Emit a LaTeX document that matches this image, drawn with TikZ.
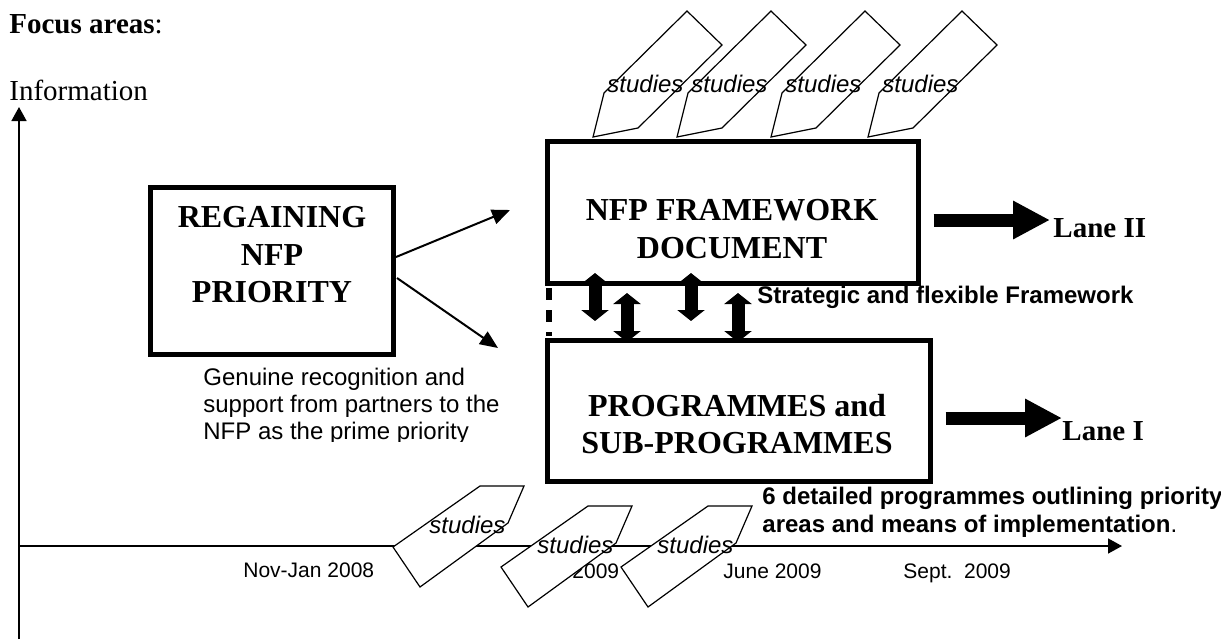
\documentclass[tikz,border=0pt]{standalone}
\usepackage{fontspec}
\setmainfont{Liberation Serif}
\newfontfamily\arialfont{Liberation Sans}
\usetikzlibrary{arrows.meta,calc}
\begin{document}
\begin{tikzpicture}[x=0.5pt,y=-0.5pt,
  box/.style={draw, line width=2.5pt, inner sep=0pt},
  boxtext/.style={inner sep=0pt, align=center, font=\fontsize{16}{18.75}\selectfont\bfseries},
  lane/.style={inner sep=0pt, anchor=base west, font=\fontsize{14.5}{17}\selectfont\bfseries},
  times/.style={inner sep=0pt, anchor=base west, font=\fontsize{14.5}{17}\selectfont},
  arialtxt/.style={inner sep=0pt, anchor=base west, font=\arialfont\fontsize{12}{13.5}\selectfont},
  arialbold/.style={inner sep=0pt, anchor=base west, font=\arialfont\bfseries\fontsize{12}{14}\selectfont},
  datetxt/.style={inner sep=0pt, anchor=base west, font=\arialfont\fontsize{10.5}{12}\selectfont},
  studytxt/.style={inner sep=0pt, anchor=base west, font=\arialfont\itshape\fontsize{12}{14}\selectfont},
  pencil/.style={draw, line width=0.6pt, line join=miter},
  axis/.style={draw, line width=0.8pt, -{Triangle[length=7pt,width=7.5pt]}},
  thinarrow/.style={draw, line width=1pt, -{Triangle[length=9pt,width=7.5pt]}},
  fatarrow/.style={draw, line width=6.5pt, -{Triangle[length=18.5pt,width=18pt]}},
  dblarrow/.style={draw, line width=6.5pt, {Triangle[length=5.5pt,width=13.5pt]}-{Triangle[length=5.5pt,width=13.5pt]}}
]
\useasboundingbox (0,0) rectangle (1221,639);

% titles
\node[times] (focus) at (9,33) {\textbf{Focus areas}:};
\node[times] (info) at (9,100) {Information};

% axes
\coordinate (origin) at (19,546);
\coordinate (ytop) at (19,107);
\coordinate (ybot) at (19,639);
\coordinate (xend) at (1122,546);
\draw[axis] (ybot) -- (ytop);
\draw[axis] (origin) -- (xend);

% timeline labels
\node[datetxt] (d1) at (243,577) {Nov-Jan 2008};
\node[datetxt] (d2) at (572,578) {2009};
\node[datetxt] (d3) at (723,578) {June 2009};
\node[datetxt] (d4) at (903,578) {Sept.\ \ 2009};

% boxes
\node[box, minimum width=121.5pt, minimum height=83.5pt] (reg) at (272,271) {};
\node[boxtext] (regt) at (272,255) {REGAINING\\NFP\\PRIORITY};
\node[box, minimum width=185.5pt, minimum height=71pt] (nfp) at (732.5,212) {};
\node[boxtext] (nfpt) at (732,229) {NFP FRAMEWORK\\DOCUMENT};
\node[box, minimum width=191.5pt, minimum height=70.5pt] (prog) at (738.5,410.5) {};
\node[boxtext] (progt) at (737,424) {PROGRAMMES and\\SUB-PROGRAMMES};

% arrows from REGAINING box
\coordinate (r1) at (510,210);
\coordinate (r2) at (498,348);
\draw[thinarrow] ($(reg.east)+(0,-14)$) -- (r1);
\draw[thinarrow] ($(reg.east)+(1,7)$) -- (r2);

% dashed left link between boxes
\coordinate (dsa) at (549,288);
\coordinate (dsb) at (549,336);
\draw[line width=3pt, dash pattern=on 6pt off 5pt] (dsa) -- (dsb);

% double arrows between boxes
\coordinate (a1t) at (595,273); \coordinate (a1b) at (595,321);
\coordinate (a2t) at (627,293); \coordinate (a2b) at (627,342);
\coordinate (a3t) at (691,273); \coordinate (a3b) at (691,321);
\coordinate (a4t) at (738,293); \coordinate (a4b) at (738,342);
\draw[dblarrow] (a1t) -- (a1b);
\draw[dblarrow] (a2t) -- (a2b);
\draw[dblarrow] (a3t) -- (a3b);
\draw[dblarrow] (a4t) -- (a4b);

% lanes
\node[lane] (l2) at (1053,237) {Lane II};
\node[lane] (l1) at (1062,440) {Lane I};
\draw[fatarrow] ($(nfp.east)+(13,8)$) -- ($(l2.base west)+(-3,-17)$);
\draw[fatarrow] ($(prog.east)+(13,7.5)$) -- ($(l1.base west)+(0,-22)$);

% side texts
\node[arialbold] (strat) at (757,303) {Strategic and flexible Framework};
\node[arialbold] (det1) at (762,504) {6 detailed programmes outlining priority};
\node[arialbold] (det2) at (762,532) {areas and means of implementation\textmd{.}};

\begin{scope}
\clip (180,350) rectangle (540,441);
\node[arialtxt] (g1) at (203,385) {Genuine recognition and};
\node[arialtxt] (g2) at (203,412) {support from partners to the};
\node[arialtxt] (g3) at (203,439) {NFP as the prime priority};
\end{scope}

% top study pencils
\foreach \dx/\i in {0/1,84/2,178/3,275/4}{
  \draw[pencil] (593+\dx,137) -- (604+\dx,93) -- (687+\dx,11) -- (722+\dx,45) -- (638+\dx,128) -- cycle;
  \node[studytxt] (ts\i) at (607+\dx,92) {studies};
}

% bottom study pencils
\foreach \dx/\dy/\i in {0/0/1,108/20/2,228/20/3}{
  \filldraw[pencil, fill=white] (393+\dx,547+\dy) -- (480+\dx,486+\dy) -- (524+\dx,486+\dy) -- (508+\dx,523+\dy) -- (420+\dx,587+\dy) -- cycle;
  \node[studytxt] (bs\i) at (429+\dx,533+\dy) {studies};
}
\end{tikzpicture}
\end{document}
